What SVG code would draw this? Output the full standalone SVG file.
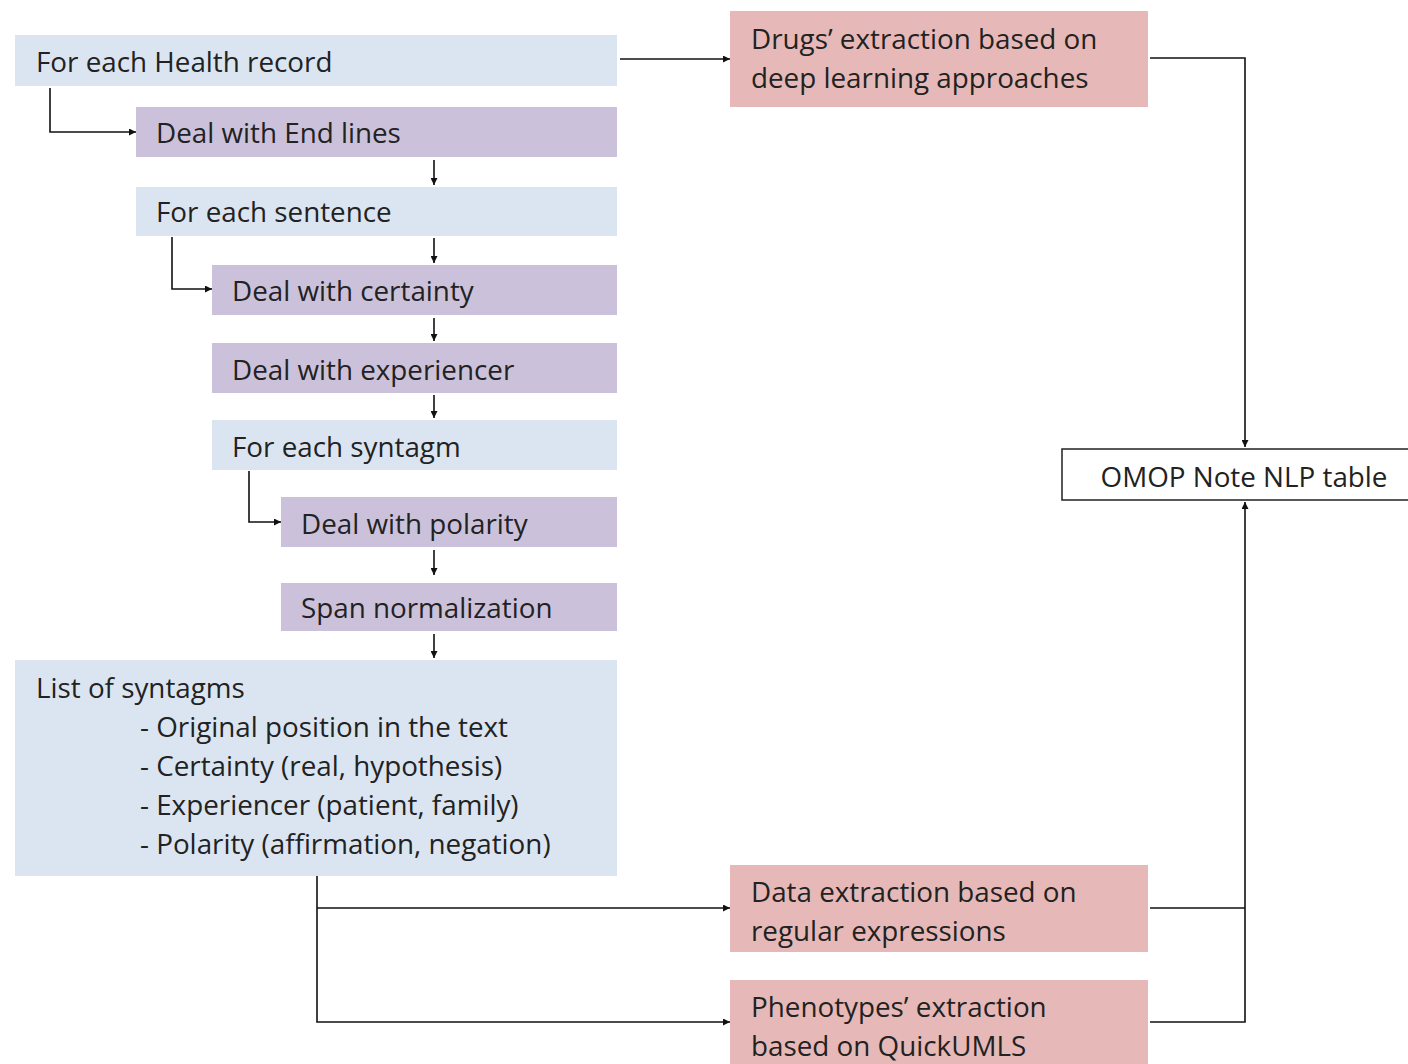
<svg xmlns="http://www.w3.org/2000/svg" width="1408" height="1064" viewBox="0 0 1408 1064">
<style>
  .blue{fill:#dbe5f1}
  .purple{fill:#ccc1da}
  .pink{fill:#e6b9b8}
  .omop{fill:#ffffff;stroke:#222;stroke-width:1.5}
  text{font-family:"Open Sans","Noto Sans","Liberation Sans",sans-serif;font-size:27.8px;fill:#222222}
  .c{fill:none;stroke:#111;stroke-width:1.6}
</style>
<defs>
  <marker id="ah" viewBox="0 0 10 10" refX="10" refY="5" markerWidth="8" markerHeight="7" orient="auto" markerUnits="userSpaceOnUse">
    <path d="M0,0 L10,5 L0,10 z" fill="#111"/>
  </marker>
</defs>
<rect width="1408" height="1064" fill="#ffffff"/>

<g id="n-health-record"><rect class="blue" x="15" y="35" width="602" height="51"/><text x="36" y="72">For each Health record</text></g>
<g id="n-end-lines"><rect class="purple" x="136" y="107" width="481" height="50"/><text x="156" y="143">Deal with End lines</text></g>
<g id="n-sentence"><rect class="blue" x="136" y="187" width="481" height="49"/><text x="156" y="222">For each sentence</text></g>
<g id="n-certainty"><rect class="purple" x="212" y="265" width="405" height="50"/><text x="232" y="301">Deal with certainty</text></g>
<g id="n-experiencer"><rect class="purple" x="212" y="343" width="405" height="50"/><text x="232" y="380">Deal with experiencer</text></g>
<g id="n-syntagm"><rect class="blue" x="212" y="420" width="405" height="50"/><text x="232" y="457">For each syntagm</text></g>
<g id="n-polarity"><rect class="purple" x="281" y="497" width="336" height="50"/><text x="301" y="534">Deal with polarity</text></g>
<g id="n-span"><rect class="purple" x="281" y="583" width="336" height="48"/><text x="301" y="618">Span normalization</text></g>
<g id="n-list"><rect class="blue" x="15" y="660" width="602" height="216"/>
  <text x="36" y="698">List of syntagms</text>
  <text x="140" y="737">- Original position in the text</text>
  <text x="140" y="776">- Certainty (real, hypothesis)</text>
  <text x="140" y="815">- Experiencer (patient, family)</text>
  <text x="140" y="854">- Polarity (affirmation, negation)</text>
</g>
<g id="n-drugs"><rect class="pink" x="730" y="11" width="418" height="96"/><text x="751" y="49">Drugs’ extraction based on</text><text x="751" y="88">deep learning approaches</text></g>
<g id="n-regex"><rect class="pink" x="730" y="865" width="418" height="87"/><text x="751" y="902">Data extraction based on</text><text x="751" y="941">regular expressions</text></g>
<g id="n-pheno"><rect class="pink" x="730" y="980" width="418" height="90"/><text x="751" y="1017">Phenotypes’ extraction</text><text x="751" y="1056">based on QuickUMLS</text></g>
<g id="n-omop"><rect class="omop" x="1062" y="449" width="352" height="51"/><text x="1244" y="487" text-anchor="middle">OMOP Note NLP table</text></g>

<g id="connectors">
  <path class="c" d="M620,59 H730" marker-end="url(#ah)"/>
  <path class="c" d="M1150,58 H1245 V447" marker-end="url(#ah)"/>
  <path class="c" d="M50,88 V132 H136" marker-end="url(#ah)"/>
  <path class="c" d="M434,160 V185" marker-end="url(#ah)"/>
  <path class="c" d="M434,238 V263" marker-end="url(#ah)"/>
  <path class="c" d="M434,318 V341" marker-end="url(#ah)"/>
  <path class="c" d="M434,395 V418" marker-end="url(#ah)"/>
  <path class="c" d="M434,550 V575" marker-end="url(#ah)"/>
  <path class="c" d="M434,634 V658" marker-end="url(#ah)"/>
  <path class="c" d="M172,237 V289 H212" marker-end="url(#ah)"/>
  <path class="c" d="M249,471 V522 H281" marker-end="url(#ah)"/>
  <path class="c" d="M317,876 V1022 H730" marker-end="url(#ah)"/>
  <path class="c" d="M317,908 H730" marker-end="url(#ah)"/>
  <path class="c" d="M1150,908 H1245"/>
  <path class="c" d="M1150,1022 H1245 V502" marker-end="url(#ah)"/>
</g>
</svg>
